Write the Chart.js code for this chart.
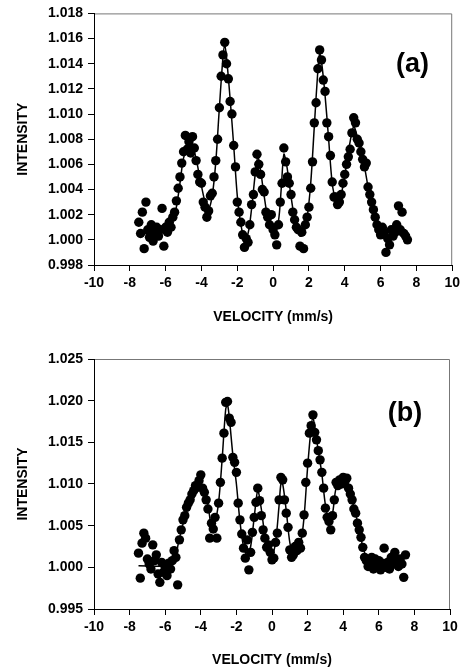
<!DOCTYPE html>
<html>
<head>
<meta charset="utf-8">
<script src="https://cdn.jsdelivr.net/npm/chart.js@4.4.1/dist/chart.umd.min.js"></script>
<style>
  html, body { margin: 0; padding: 0; background: #fff; }
  #wrapA { position: absolute; left: 0; top: 0; width: 464px; height: 340px; }
  #wrapB { position: absolute; left: 0; top: 340px; width: 464px; height: 332px; }
</style>
</head>
<body>
<div id="wrapA"><canvas id="chartA"></canvas></div>
<div id="wrapB"><canvas id="chartB"></canvas></div>
<script>
// Geschwindigkeitskanäle (mm/s), für beide Spektren gleich
const velocity = [
  -7.5, -7.4, -7.3, -7.2, -7.1, -7.0,
  -6.9, -6.8, -6.7, -6.6, -6.5, -6.4, -6.3, -6.2, -6.1, -6.0,
  -5.9, -5.8, -5.7, -5.6, -5.5, -5.4, -5.3, -5.2, -5.1, -5.0,
  -4.9, -4.8, -4.7, -4.6, -4.5, -4.4, -4.3, -4.2, -4.1, -4.0,
  -3.9, -3.8, -3.7, -3.6, -3.5, -3.4, -3.3, -3.2, -3.1, -3.0,
  -2.9, -2.8, -2.7, -2.6, -2.5, -2.4, -2.3, -2.2, -2.1, -2.0,
  -1.9, -1.8, -1.7, -1.6, -1.5, -1.4, -1.3, -1.2, -1.1, -1.0,
  -0.9, -0.8, -0.7, -0.6, -0.5, -0.4, -0.3, -0.2, -0.1, 0.0,
  0.1, 0.2, 0.3, 0.4, 0.5, 0.6, 0.7, 0.8, 0.9, 1.0,
  1.1, 1.2, 1.3, 1.4, 1.5, 1.6, 1.7, 1.8, 1.9, 2.0,
  2.1, 2.2, 2.3, 2.4, 2.5, 2.6, 2.7, 2.8, 2.9, 3.0,
  3.1, 3.2, 3.3, 3.4, 3.5, 3.6, 3.7, 3.8, 3.9, 4.0,
  4.1, 4.2, 4.3, 4.4, 4.5, 4.6, 4.7, 4.8, 4.9, 5.0,
  5.1, 5.2, 5.3, 5.4, 5.5, 5.6, 5.7, 5.8, 5.9, 6.0,
  6.1, 6.2, 6.3, 6.4, 6.5, 6.6, 6.7, 6.8, 6.9, 7.0,
  7.1, 7.2, 7.3, 7.4, 7.5
];

// Messpunkte Spektrum (a)
const intensityA = [
  1.0014, 1.0005, 1.0022, 0.9993, 1.0030, 1.0008,
  1.0002, 1.0012, 0.9999, 1.0006, 1.0010, 1.0003, 1.0008, 1.0025, 0.9995, 1.0010,
  1.0006, 1.0014, 1.0010, 1.0018, 1.0022, 1.0031, 1.0041, 1.0050, 1.0061, 1.0070,
  1.0083, 1.0072, 1.0078, 1.0069, 1.0082, 1.0073, 1.0063, 1.0052, 1.0046, 1.0045,
  1.0030, 1.0026, 1.0018, 1.0023, 1.0035, 1.0037, 1.0050, 1.0063, 1.0080, 1.0105,
  1.0130, 1.0147, 1.0157, 1.0140, 1.0128, 1.0110, 1.0100, 1.0075, 1.0058, 1.0030,
  1.0022, 1.0014, 1.0004, 0.9994, 1.0001, 0.9998, 1.0012, 1.0028, 1.0036, 1.0054,
  1.0068, 1.0060, 1.0052, 1.0040, 1.0038, 1.0022, 1.0018, 1.0012, 1.0020, 1.0008,
  1.0004, 0.9996, 1.0012, 1.0030, 1.0045, 1.0073, 1.0062, 1.0050, 1.0045, 1.0036,
  1.0022, 1.0016, 1.0010, 1.0008, 0.9995, 1.0006, 0.9993, 1.0012, 1.0018, 1.0026,
  1.0041, 1.0062, 1.0093, 1.0109, 1.0136, 1.0151, 1.0143, 1.0127, 1.0118, 1.0093,
  1.0082, 1.0067, 1.0046, 1.0034, 1.0034, 1.0028, 1.0030, 1.0036, 1.0045, 1.0052,
  1.0060, 1.0066, 1.0072, 1.0085, 1.0097, 1.0093, 1.0080, 1.0077, 1.0070, 1.0064,
  1.0058, 1.0061, 1.0042, 1.0036, 1.0030, 1.0024, 1.0018, 1.0012, 1.0008, 1.0004,
  1.0010, 1.0006, 0.9990, 1.0001, 0.9996, 1.0008, 1.0003, 1.0006, 1.0012, 1.0027,
  1.0008, 1.0022, 1.0005, 1.0003, 1.0000
];

// Messpunkte Spektrum (b)
const intensityB = [
  1.0017, 0.9987, 1.0029, 1.0041, 1.0035, 1.0010,
  1.0004, 0.9998, 1.0027, 1.0008, 1.0015, 0.9992, 0.9982, 1.0006, 0.9994, 1.0000,
  0.9990, 1.0005, 0.9998, 1.0008, 1.0020, 1.0012, 0.9979, 1.0033, 1.0045, 1.0057,
  1.0062, 1.0072, 1.0077, 1.0081, 1.0088, 1.0092, 1.0098, 1.0096, 1.0104, 1.0111,
  1.0095, 1.0090, 1.0081, 1.0070, 1.0035, 1.0053, 1.0046, 1.0060, 1.0035, 1.0077,
  1.0102, 1.0131, 1.0161, 1.0198, 1.0199, 1.0179, 1.0174, 1.0132, 1.0126, 1.0114,
  1.0077, 1.0057, 1.0040, 1.0023, 1.0011, 1.0033, 0.9997, 1.0018, 1.0042, 1.0060,
  1.0078, 1.0095, 1.0080, 1.0062, 1.0045, 1.0035, 1.0024, 1.0027, 1.0018, 1.0009,
  1.0011, 1.0030, 1.0041, 1.0081, 1.0108, 1.0105, 1.0081, 1.0065, 1.0048, 1.0021,
  1.0012, 1.0015, 1.0025, 1.0020, 1.0030, 1.0023, 1.0041, 1.0063, 1.0102, 1.0125,
  1.0161, 1.0170, 1.0183, 1.0162, 1.0153, 1.0140, 1.0129, 1.0114, 1.0095, 1.0071,
  1.0060, 1.0055, 1.0045, 1.0062, 1.0081, 1.0102, 1.0098, 1.0105, 1.0100, 1.0108,
  1.0103, 1.0107, 1.0095, 1.0088, 1.0081, 1.0070, 1.0065, 1.0053, 1.0045, 1.0036,
  1.0024, 1.0012, 1.0008, 1.0001, 1.0005, 1.0012, 0.9998, 1.0010, 1.0003, 1.0008,
  0.9997, 1.0005, 1.0023, 1.0000, 1.0006, 0.9998, 1.0012, 1.0004, 1.0018, 1.0008,
  1.0001, 1.0010, 1.0004, 0.9988, 1.0015
];

// Angepasste Kurven (Fit)
const fitVelocityA = [
  -7.5, -6.5, -6.0, -5.5, -5.2, -5.0, -4.7, -4.4, -4.1, -3.8, -3.6, -3.4, -3.2, -3.0,
  -2.8, -2.7, -2.6, -2.4, -2.2, -2.0, -1.8, -1.6, -1.4, -1.2, -1.0, -0.85, -0.7, -0.5,
  -0.3, -0.1, 0.1, 0.3, 0.45, 0.6, 0.75, 0.9, 1.1, 1.3, 1.5, 1.7, 1.9, 2.1, 2.3, 2.5,
  2.6, 2.7, 2.9, 3.1, 3.3, 3.5, 3.7, 3.9, 4.1, 4.3, 4.5, 4.7, 4.9, 5.1, 5.3, 5.5, 5.7,
  5.9, 6.2, 7.5
];
const fitIntensityA = [
  1.0005, 1.0005, 1.0007, 1.0020, 1.0045, 1.0065, 1.0075, 1.0070, 1.0050, 1.0030, 1.0025, 1.0035, 1.0062, 1.0105,
  1.0145, 1.0155, 1.0145, 1.0112, 1.0075, 1.0035, 1.0012, 1.0002, 1.0005, 1.0025, 1.0052, 1.0066, 1.0055, 1.0035,
  1.0018, 1.0012, 1.0008, 1.0015, 1.0040, 1.0068, 1.0060, 1.0045, 1.0025, 1.0010, 1.0003, 1.0005, 1.0018, 1.0045, 1.0090, 1.0135,
  1.0148, 1.0142, 1.0115, 1.0080, 1.0045, 1.0032, 1.0030, 1.0043, 1.0060, 1.0078, 1.0090, 1.0082, 1.0068, 1.0058, 1.0042, 1.0028, 1.0017,
  1.0009, 1.0005, 1.0004
];
const fitVelocityB = [
  -7.5, -6.0, -5.5, -5.2, -4.9, -4.6, -4.2, -3.9, -3.6, -3.4, -3.2, -3.0, -2.8, -2.6,
  -2.5, -2.4, -2.2, -2.0, -1.8, -1.6, -1.4, -1.2, -1.0, -0.8, -0.6, -0.4, -0.2, 0.0,
  0.2, 0.4, 0.5, 0.6, 0.8, 1.0, 1.2, 1.4, 1.6, 1.8, 2.0, 2.2, 2.3, 2.4, 2.6, 2.8,
  3.0, 3.2, 3.4, 3.6, 3.9, 4.2, 4.5, 4.8, 5.1, 5.4, 5.8, 7.5
];
const fitIntensityB = [
  1.0002, 1.0002, 1.0010, 1.0035, 1.0060, 1.0080, 1.0098, 1.0098, 1.0075, 1.0050, 1.0055, 1.0078, 1.0130, 1.0190,
  1.0195, 1.0180, 1.0135, 1.0100, 1.0055, 1.0025, 1.0015, 1.0025, 1.0060, 1.0092, 1.0070, 1.0038, 1.0022, 1.0015,
  1.0030, 1.0075, 1.0100, 1.0100, 1.0068, 1.0030, 1.0016, 1.0020, 1.0028, 1.0060, 1.0120, 1.0168, 1.0180, 1.0168, 1.0140, 1.0112,
  1.0075, 1.0058, 1.0065, 1.0095, 1.0103, 1.0102, 1.0080, 1.0055, 1.0025, 1.0008, 1.0004, 1.0004
];

// Achsenbereiche
const xTicks = [-10, -8, -6, -4, -2, 0, 2, 4, 6, 8, 10];
const yRangeA = [0.998, 1.018, 0.002];
const yRangeB = [0.995, 1.025, 0.005];

// Beschriftung der Teilbilder und deren Position (Datenkoordinaten)
const panelLabels = ['(a)', '(b)'];
const panelLabelPosA = [7.78, 1.0139];
const panelLabelPosB = [7.47, 1.0184];

const FONT = "'Liberation Sans', Arial, sans-serif";

function toPoints(xs, ys) {
  return xs.map((x, i) => ({ x: x, y: ys[i] }));
}

// Rahmen oben/rechts und Beschriftung (a)/(b)
const framePlugin = {
  id: 'frame',
  beforeDraw(chart) {
    const { ctx, chartArea: a } = chart;
    ctx.save();
    ctx.strokeStyle = '#777';
    ctx.lineWidth = 1;
    ctx.beginPath();
    ctx.moveTo(a.left, a.top + 0.5);
    ctx.lineTo(a.right - 0.5, a.top + 0.5);
    ctx.lineTo(a.right - 0.5, a.bottom);
    ctx.stroke();
    ctx.restore();
  },
  afterDatasetsDraw(chart, args, opts) {
    const { ctx, scales } = chart;
    ctx.save();
    ctx.fillStyle = '#000';
    ctx.font = 'bold 27px ' + FONT;
    ctx.textAlign = 'center';
    ctx.textBaseline = 'middle';
    ctx.fillText(opts.text, scales.x.getPixelForValue(opts.pos[0]), scales.y.getPixelForValue(opts.pos[1]));
    ctx.restore();
  }
};

function createSpectrum(canvasId, intensities, fitV, fitI, yRange, label, labelPos, pad, yTitlePad, xTitlePad) {
  const ctx = document.getElementById(canvasId).getContext('2d');
  return new Chart(ctx, {
    type: 'scatter',
    data: {
      datasets: [
        {
          data: toPoints(fitV, fitI),
          showLine: true,
          borderColor: '#000',
          borderWidth: 1.5,
          pointRadius: 0,
          tension: 0.3,
          order: 2
        },
        {
          data: toPoints(velocity, intensities),
          backgroundColor: '#000',
          borderWidth: 0,
          pointRadius: 4.7,
          order: 1
        }
      ]
    },
    options: {
      responsive: true,
      maintainAspectRatio: false,
      animation: false,
      layout: { padding: pad },
      plugins: {
        legend: { display: false },
        tooltip: { enabled: false },
        frame: { text: label, pos: labelPos }
      },
      scales: {
        x: {
          type: 'linear',
          min: xTicks[0],
          max: xTicks[xTicks.length - 1],
          afterBuildTicks: axis => { axis.ticks = xTicks.map(v => ({ value: v })); },
          afterFit: axis => { axis.height = pad.axisH; },
          grid: { display: true, drawOnChartArea: false, drawTicks: true, tickLength: 6, color: '#000' },
          border: { display: true, color: '#000', width: 1 },
          ticks: { color: '#000', font: { family: FONT, size: 14, weight: 'bold' }, padding: 4, maxRotation: 0 },
          title: {
            display: true,
            text: 'VELOCITY (mm/s)',
            color: '#000',
            font: { family: FONT, size: 14, weight: 'bold' },
            padding: { top: 0, bottom: xTitlePad }
          }
        },
        y: {
          min: yRange[0],
          max: yRange[1],
          afterFit: axis => { axis.width = 94; },
          grid: { display: true, drawOnChartArea: false, drawTicks: true, tickLength: 6, color: '#000' },
          border: { display: true, color: '#000', width: 1 },
          ticks: {
            stepSize: yRange[2],
            color: '#000',
            padding: 5,
            font: { family: FONT, size: 14, weight: 'bold' },
            callback: v => Number(v).toFixed(3)
          },
          title: {
            display: true,
            text: 'INTENSITY',
            color: '#000',
            font: { family: FONT, size: 14, weight: 'bold' },
            padding: { top: yTitlePad, bottom: 0 }
          }
        }
      }
    },
    plugins: [framePlugin]
  });
}

createSpectrum('chartA', intensityA, fitVelocityA, fitIntensityA, yRangeA, panelLabels[0], panelLabelPosA,
  { left: 0, right: 10, top: 13, bottom: 0, axisH: 75 }, 14.6, 14.6);
createSpectrum('chartB', intensityB, fitVelocityB, fitIntensityB, yRangeB, panelLabels[1], panelLabelPosB,
  { left: 0, right: 14, top: 19, bottom: 0, axisH: 63 }, 14.6, 3.6);
</script>
</body>
</html>
